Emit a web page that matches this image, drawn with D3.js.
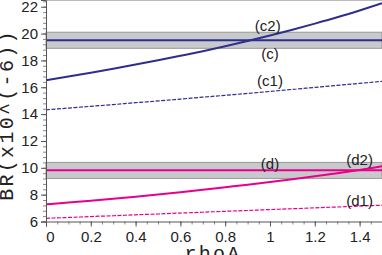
<!DOCTYPE html>
<html>
<head>
<meta charset="utf-8">
<script src="https://cdn.jsdelivr.net/npm/d3@7"></script>
<style>
  body { margin: 0; background: #fff; }
  svg { display: block; }
  .tick text { font-family: "Liberation Sans", Arial, sans-serif; font-size: 15px; fill: #222; }
  .lbl { font-family: "Liberation Sans", Arial, sans-serif; font-size: 15px; fill: #222; }
  .title { font-family: "Liberation Mono", "DejaVu Sans Mono", monospace; font-size: 20px; fill: #222; letter-spacing: 2.3px; }
</style>
</head>
<body>
<div id="chart"></div>
<script>
// rhoA grid and branching ratios (x10^-6)
const rhoA = [0, 0.1, 0.2, 0.3, 0.4, 0.5, 0.6, 0.7, 0.8, 0.9, 1.0, 1.1, 1.2, 1.3, 1.4, 1.5];
const c2 = [16.53, 16.80, 17.08, 17.38, 17.69, 18.01, 18.34, 18.68, 19.05, 19.45, 19.86, 20.29, 20.74, 21.21, 21.72, 22.26];
const c1 = [14.32, 14.45, 14.58, 14.71, 14.85, 14.98, 15.12, 15.26, 15.40, 15.54, 15.69, 15.84, 15.99, 16.14, 16.29, 16.44];
const d2 = [7.28, 7.41, 7.55, 7.70, 7.85, 8.01, 8.18, 8.36, 8.55, 8.74, 8.94, 9.15, 9.37, 9.60, 9.84, 10.12];
const d1 = [6.24, 6.30, 6.37, 6.43, 6.50, 6.56, 6.63, 6.69, 6.76, 6.82, 6.89, 6.95, 7.02, 7.08, 7.15, 7.21];

// measured values (central value and band)
const cValue = 19.5;
const cBand = [18.9, 20.1];
const dValue = 9.81;
const dBand = [9.21, 10.4];

const xTicks = [0, 0.2, 0.4, 0.6, 0.8, 1, 1.2, 1.4];
const yTicks = [6, 8, 10, 12, 14, 16, 18, 20, 22];

const labelText = ['(c2)', '(c)', '(c1)', '(d)', '(d2)', '(d1)'];
const labelX = [0.99, 1.0, 1.0, 1.0, 1.40, 1.40];
const labelY = [20.62, 18.54, 16.53, 10.35, 10.65, 7.53];

const W = 382, H = 255;
const mLeft = 46, mRight = 382, mTop = 0, mBottom = 221.5;

const svg = d3.select('#chart').append('svg')
    .attr('width', W)
    .attr('height', H);

const x = d3.scaleLinear().domain([0, 1.5]).range([mLeft, mRight]);
const y = d3.scaleLinear().domain([6, 22.5]).range([mBottom, mTop]);

const blue = '#2e2e8c';
const pink = '#e8008a';

// top frame
svg.append('line')
    .attr('x1', mLeft).attr('x2', mRight)
    .attr('y1', 0.5).attr('y2', 0.5)
    .attr('stroke', '#bbb');

// bands
function band(b, v, color) {
    svg.append('rect')
        .attr('x', x(0)).attr('width', x(1.5) - x(0))
        .attr('y', y(b[1])).attr('height', y(b[0]) - y(b[1]))
        .attr('fill', '#c8c9cc')
        .attr('stroke', '#999')
        .attr('stroke-width', 1);
    svg.append('line')
        .attr('x1', x(0)).attr('x2', x(1.5))
        .attr('y1', y(v)).attr('y2', y(v))
        .attr('stroke', color)
        .attr('stroke-width', 2);
}
band(cBand, cValue, blue);
band(dBand, dValue, pink);

const line = d3.line()
    .x((d, i) => x(rhoA[i]))
    .y(d => y(d))
    .curve(d3.curveMonotoneX);

function curve(vals, color, dashed) {
    svg.append('path')
        .attr('d', line(vals))
        .attr('fill', 'none')
        .attr('stroke', color)
        .attr('stroke-width', dashed ? 1.2 : 2)
        .attr('stroke-dasharray', dashed ? '4,1.5' : null);
}
curve(c2, blue, false);
curve(c1, blue, true);
curve(d2, pink, false);
curve(d1, pink, true);

// labels
svg.selectAll('text.lbl')
    .data(labelText)
    .enter()
    .append('text')
    .attr('class', 'lbl')
    .attr('x', (d, i) => x(labelX[i]))
    .attr('y', (d, i) => y(labelY[i]))
    .attr('text-anchor', 'middle')
    .attr('dominant-baseline', 'central')
    .text(d => d);

// axes: minor ticks first, then majors
const axisColor = '#555';

const yMinor = d3.range(6, 22.5, 0.4);
svg.append('g')
    .attr('transform', `translate(${mLeft},0)`)
    .call(d3.axisLeft(y).tickValues(yMinor).tickSize(3).tickFormat(''))
    .call(g => g.select('.domain').remove())
    .call(g => g.selectAll('line').attr('stroke', '#888'));

svg.append('g')
    .attr('transform', `translate(${mLeft},0)`)
    .call(d3.axisLeft(y).tickValues(yTicks).tickSize(5).tickPadding(3).tickFormat(d3.format('d')))
    .call(g => g.select('.domain').attr('stroke', axisColor))
    .call(g => g.selectAll('line').attr('stroke', axisColor));

const xMinor = d3.range(0, 1.501, 0.05);
svg.append('g')
    .attr('transform', `translate(0,${mBottom})`)
    .call(d3.axisBottom(x).tickValues(xMinor).tickSize(3).tickFormat(''))
    .call(g => g.select('.domain').remove())
    .call(g => g.selectAll('line').attr('stroke', '#888'));

svg.append('g')
    .attr('transform', `translate(0,${mBottom})`)
    .call(d3.axisBottom(x).tickValues(xTicks).tickSize(5).tickPadding(5).tickFormat(d => d3.format('')(d)))
    .call(g => g.select('.domain').attr('stroke', axisColor))
    .call(g => g.selectAll('line').attr('stroke', axisColor))
    .call(g => g.selectAll('.tick text').filter(d => d === 0).attr('dx', 4));

// axis titles
svg.append('text')
    .attr('class', 'title')
    .attr('x', 213)
    .attr('y', 260)
    .attr('text-anchor', 'middle')
    .text('rhoA');

svg.append('text')
    .attr('class', 'title')
    .attr('transform', 'translate(13,115) rotate(-90)')
    .attr('text-anchor', 'middle')
    .text('BR(x10^(-6))');
</script>
</body>
</html>
